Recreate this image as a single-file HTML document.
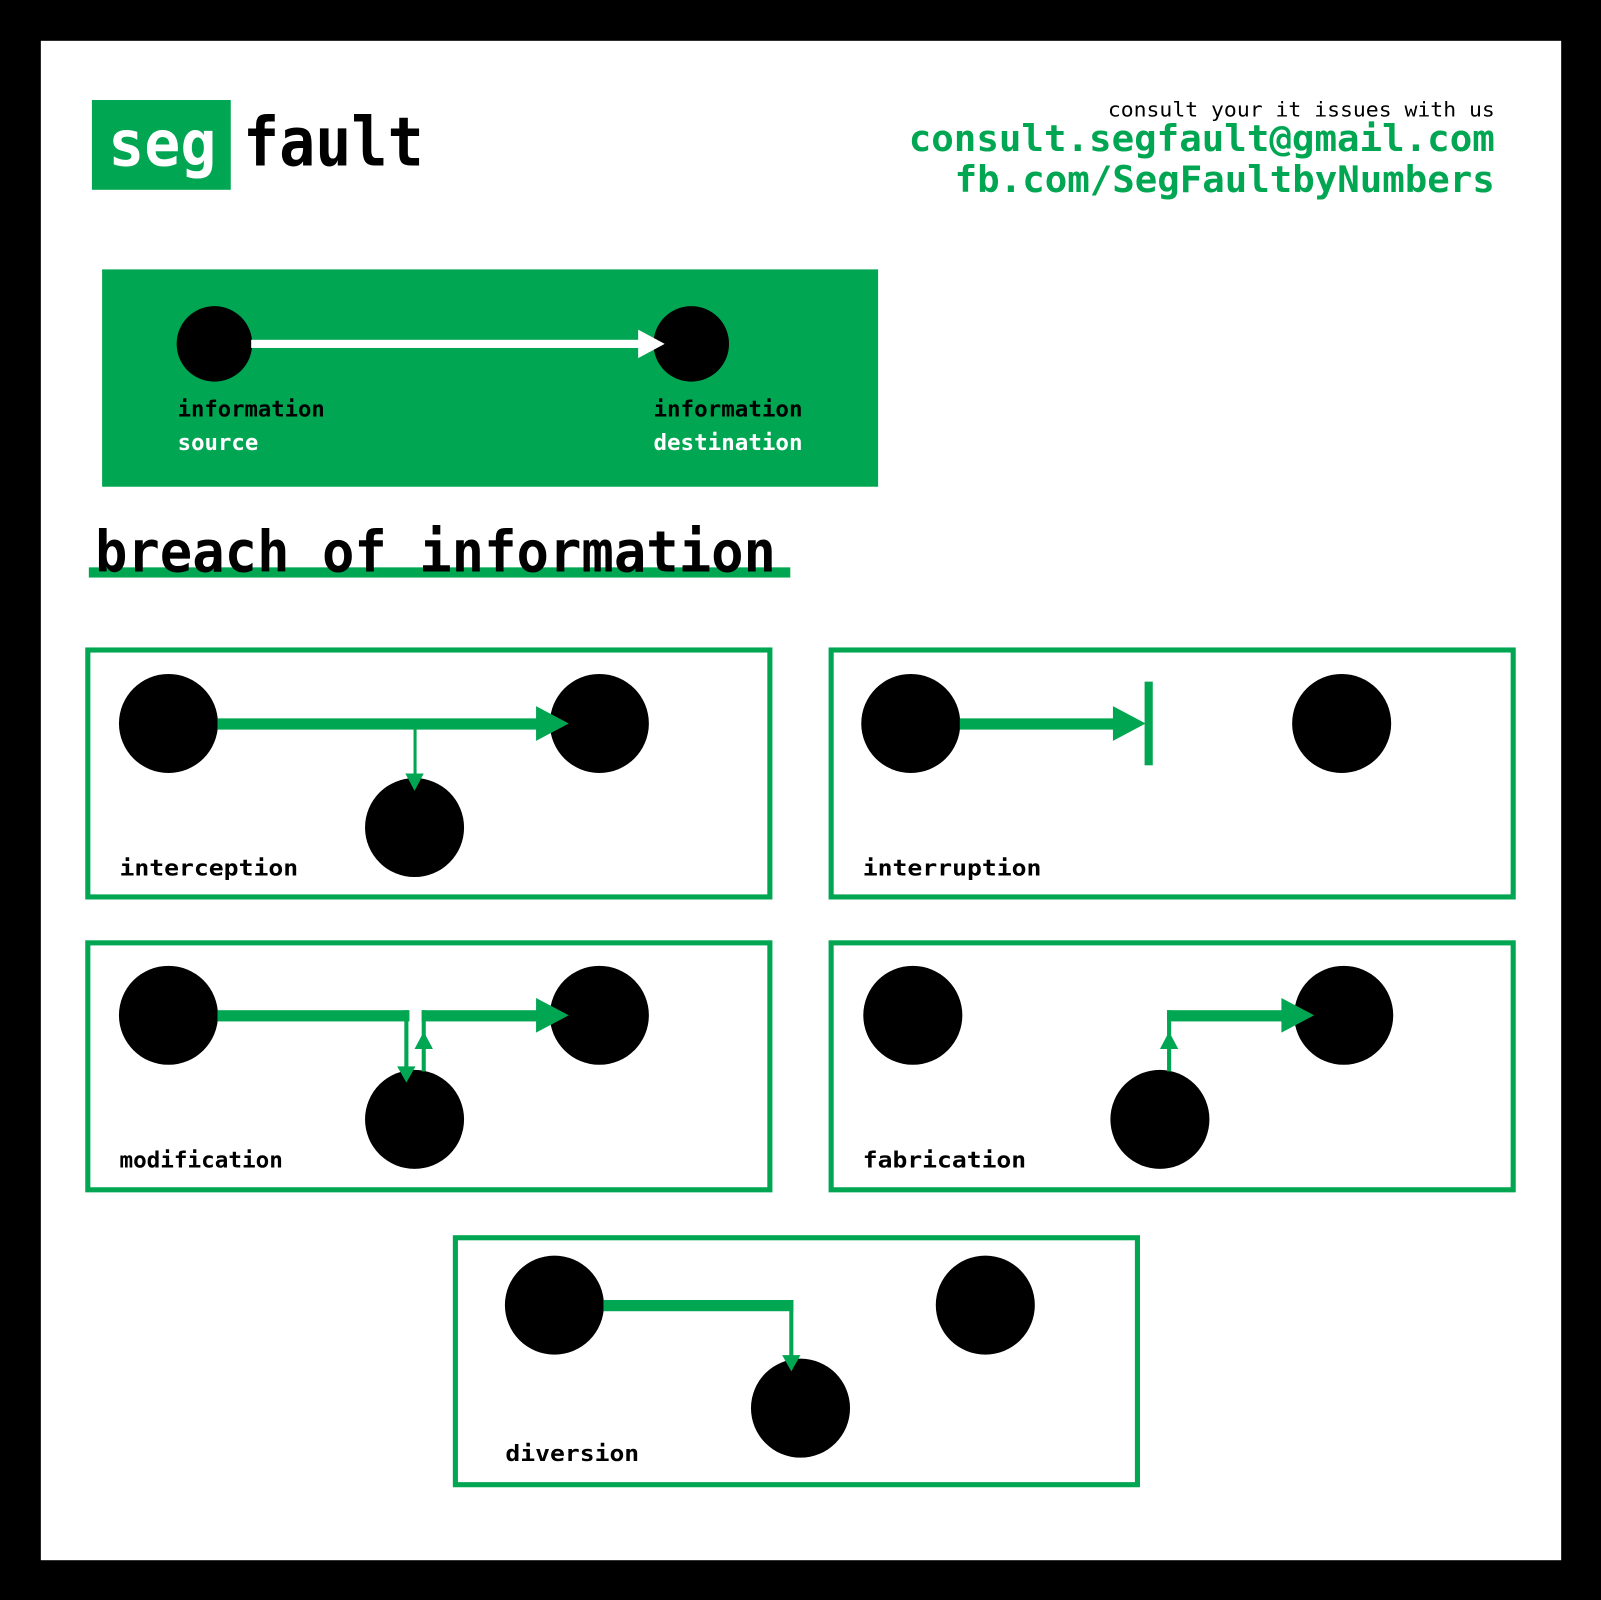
<!DOCTYPE html>
<html><head><meta charset="utf-8"><style>
html,body{margin:0;padding:0;background:#000}
svg{display:block}
text{font-family:"DejaVu Sans Mono","Liberation Mono",monospace;font-weight:bold}
</style></head><body>
<svg width="1601" height="1600" viewBox="0 0 1568 1568" preserveAspectRatio="none" xmlns="http://www.w3.org/2000/svg">
<rect x="0" y="0" width="1568" height="1568" fill="#000"/>
<rect x="40" y="40" width="1489" height="1489" fill="#fff"/>
<!-- logo -->
<rect x="90" y="98" width="136" height="88" fill="#00a651"/>
<text x="106" y="162" font-size="62" fill="#fff" textLength="106" lengthAdjust="spacingAndGlyphs">seg</text>
<text x="238" y="162" font-size="66" fill="#000" textLength="177" lengthAdjust="spacingAndGlyphs">fault</text>
<!-- header right -->
<text x="1464" y="114" font-size="20" fill="#000" text-anchor="end" font-weight="normal" style="font-weight:normal" textLength="379" lengthAdjust="spacingAndGlyphs">consult your it issues with us</text>
<text x="1464" y="148" font-size="36" fill="#00a651" text-anchor="end" textLength="574" lengthAdjust="spacingAndGlyphs">consult.segfault@gmail.com</text>
<text x="1464" y="188" font-size="36" fill="#00a651" text-anchor="end" textLength="529" lengthAdjust="spacingAndGlyphs">fb.com/SegFaultbyNumbers</text>
<!-- legend -->
<rect x="100" y="264" width="760" height="213" fill="#00a651"/>
<circle cx="210" cy="337" r="37" fill="#000"/>
<circle cx="677" cy="337" r="37" fill="#000"/>
<rect x="246" y="333" width="382" height="8" fill="#fff"/>
<polygon points="625,323 651,337 625,351" fill="#fff"/>
<text x="174" y="408" font-size="22" fill="#000" textLength="144" lengthAdjust="spacingAndGlyphs">information</text>
<text x="174" y="441" font-size="22" fill="#fff" textLength="79" lengthAdjust="spacingAndGlyphs">source</text>
<text x="640" y="408" font-size="22" fill="#000" textLength="146" lengthAdjust="spacingAndGlyphs">information</text>
<text x="640" y="441" font-size="22" fill="#fff" textLength="146" lengthAdjust="spacingAndGlyphs">destination</text>
<!-- title -->
<rect x="87" y="556" width="687" height="10" fill="#00a651"/>
<text x="93" y="560" font-size="56" fill="#000" textLength="667" lengthAdjust="spacingAndGlyphs">breach of information</text>
<g fill="none" stroke="#00a651" stroke-width="5">
<rect x="86" y="637" width="668" height="242"/>
<rect x="814" y="637" width="668" height="242"/>
<rect x="86" y="924" width="668" height="242"/>
<rect x="814" y="924" width="668" height="242"/>
<rect x="446" y="1213" width="668" height="242"/>
</g>
<g fill="#000">
<circle cx="165" cy="709" r="48.5"/><circle cx="587" cy="709" r="48.5"/><circle cx="406" cy="811" r="48.5"/>
<circle cx="892" cy="709" r="48.5"/><circle cx="1314" cy="709" r="48.5"/>
<circle cx="165" cy="995" r="48.5"/><circle cx="587" cy="995" r="48.5"/><circle cx="406" cy="1097" r="48.5"/>
<circle cx="894" cy="995" r="48.5"/><circle cx="1316" cy="995" r="48.5"/><circle cx="1136" cy="1097" r="48.5"/>
<circle cx="543" cy="1279" r="48.5"/><circle cx="965" cy="1279" r="48.5"/><circle cx="784" cy="1380" r="48.5"/>
</g>
<g fill="#00a651">
<!-- interception -->
<rect x="213" y="704" width="314" height="11"/>
<polygon points="525,692 557,709 525,726"/>
<rect x="405" y="709" width="3" height="52"/>
<polygon points="397,758 415,758 406,775"/>
<!-- interruption -->
<rect x="940" y="704" width="152" height="11"/>
<polygon points="1090,692 1122,709 1090,726"/>
<rect x="1121" y="668" width="8" height="82"/>
<!-- modification -->
<rect x="213" y="990" width="188" height="11"/>
<rect x="396" y="990" width="4" height="58"/>
<polygon points="389,1045 407,1045 398,1061"/>
<rect x="413" y="990" width="114" height="11"/>
<rect x="413" y="990" width="4" height="60"/>
<polygon points="406,1028 424,1028 415,1011"/>
<polygon points="525,978 557,995 525,1012"/>
<!-- fabrication -->
<rect x="1143" y="990" width="114" height="11"/>
<rect x="1143" y="990" width="4" height="60"/>
<polygon points="1136,1028 1154,1028 1145,1011"/>
<polygon points="1255,978 1287,995 1255,1012"/>
<!-- diversion -->
<rect x="591" y="1274" width="186" height="11"/>
<rect x="773" y="1274" width="4" height="56"/>
<polygon points="766,1328 784,1328 775,1344"/>
</g>
<g font-size="22" fill="#000">
<text x="117" y="858" textLength="175" lengthAdjust="spacingAndGlyphs">interception</text>
<text x="845" y="858" textLength="175" lengthAdjust="spacingAndGlyphs">interruption</text>
<text x="117" y="1144" textLength="160" lengthAdjust="spacingAndGlyphs">modification</text>
<text x="845" y="1144" textLength="160" lengthAdjust="spacingAndGlyphs">fabrication</text>
<text x="495" y="1432" textLength="131" lengthAdjust="spacingAndGlyphs">diversion</text>
</g>
</svg>
</body></html>
